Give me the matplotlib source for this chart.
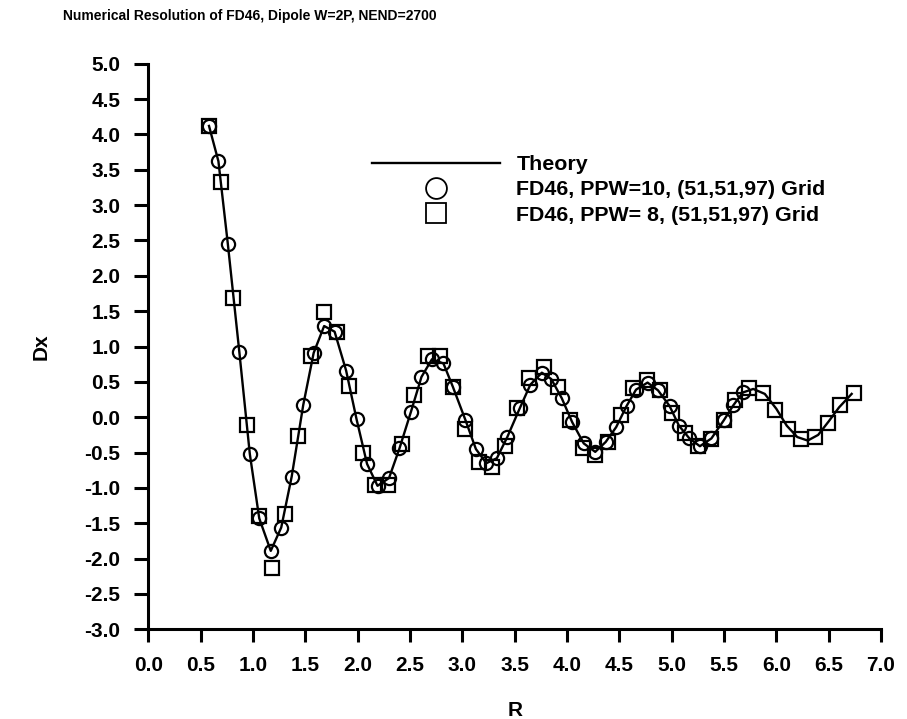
import matplotlib
matplotlib.use("Agg")
import matplotlib.pyplot as plt
from matplotlib.lines import Line2D

plt.rcParams['font.family'] = ['Liberation Sans', 'DejaVu Sans']
plt.rcParams['font.weight'] = 'bold'

# FD46, PPW=10 (circles)
r_ppw10 = [0.58, 0.67, 0.76, 0.87, 0.97, 1.06, 1.17, 1.27, 1.37, 1.48,
           1.58, 1.68, 1.78, 1.89, 1.99, 2.09, 2.19, 2.30, 2.40, 2.51,
           2.61, 2.71, 2.82, 2.91, 3.03, 3.13, 3.23, 3.33, 3.43, 3.55,
           3.65, 3.76, 3.85, 3.95, 4.05, 4.16, 4.27, 4.37, 4.47, 4.57,
           4.66, 4.77, 4.87, 4.98, 5.07, 5.17, 5.27, 5.38, 5.50, 5.59, 5.68]
dx_ppw10 = [4.12, 3.62, 2.45, 0.92, -0.52, -1.43, -1.89, -1.56, -0.84, 0.17,
            0.91, 1.29, 1.21, 0.66, -0.03, -0.66, -0.97, -0.86, -0.44, 0.08,
            0.57, 0.82, 0.76, 0.43, -0.04, -0.45, -0.65, -0.58, -0.28, 0.13,
            0.46, 0.63, 0.54, 0.27, -0.07, -0.37, -0.49, -0.35, -0.14, 0.16,
            0.39, 0.49, 0.38, 0.16, -0.12, -0.30, -0.41, -0.30, -0.04, 0.17, 0.35]

# FD46, PPW=8 (squares)
r_ppw8 = [0.58, 0.69, 0.81, 0.94, 1.06, 1.18, 1.31, 1.43, 1.55, 1.68,
          1.80, 1.92, 2.05, 2.17, 2.29, 2.42, 2.54, 2.67, 2.79, 2.91,
          3.03, 3.16, 3.28, 3.41, 3.52, 3.64, 3.78, 3.91, 4.03, 4.15,
          4.27, 4.39, 4.52, 4.63, 4.76, 4.89, 5.00, 5.13, 5.25, 5.38,
          5.50, 5.61, 5.74, 5.87, 5.99, 6.11, 6.24, 6.37, 6.49, 6.61, 6.74]
dx_ppw8 = [4.12, 3.33, 1.69, -0.11, -1.40, -2.13, -1.37, -0.26, 0.86, 1.49,
           1.20, 0.44, -0.50, -0.96, -0.96, -0.38, 0.32, 0.87, 0.87, 0.43,
           -0.17, -0.63, -0.70, -0.40, 0.13, 0.56, 0.71, 0.43, -0.04, -0.43,
           -0.53, -0.35, 0.03, 0.41, 0.53, 0.38, 0.06, -0.23, -0.41, -0.31,
           -0.04, 0.24, 0.42, 0.34, 0.10, -0.16, -0.31, -0.28, -0.08, 0.17, 0.34]

# theory curve
r_theory = r_ppw10 + [5.78, 5.89, 6.00, 6.10, 6.20, 6.30, 6.40, 6.50, 6.60, 6.72]
dx_theory = dx_ppw10 + [0.40, 0.33, 0.12, -0.12, -0.28, -0.33, -0.25, -0.06, 0.14, 0.33]

labels = ["Theory", "FD46, PPW=10, (51,51,97) Grid", "FD46, PPW= 8, (51,51,97) Grid"]

fig = plt.figure(figsize=(9.07, 7.19), dpi=100)
ax = fig.add_axes([0.1635, 0.1247, 0.8078, 0.7867])

ax.plot(r_theory, dx_theory, color='black', lw=1.7, zorder=2)
ax.plot(r_ppw10, dx_ppw10, ls='none', marker='o', ms=9.5, mfc='none', mec='black', mew=1.6, zorder=3)
ax.plot(r_ppw8, dx_ppw8, ls='none', marker='s', ms=9.5, mfc='none', mec='black', mew=1.6, zorder=3)

ax.set_xlim(0, 7)
ax.set_ylim(-3, 5)
ax.set_xticks([i * 0.5 for i in range(15)])
ax.set_yticks([-3 + i * 0.5 for i in range(17)])
ax.set_xticklabels(["%.1f" % (i * 0.5) for i in range(15)])
ax.set_yticklabels(["%.1f" % (-3 + i * 0.5) for i in range(17)])
ax.tick_params(direction='out', width=2.2, labelsize=15)
ax.tick_params(axis='y', length=10, pad=10)
ax.tick_params(axis='x', length=9, pad=10)

for s in ['top', 'right']:
    ax.spines[s].set_visible(False)
for s in ['left', 'bottom']:
    ax.spines[s].set_linewidth(2.2)

ax.set_xlabel("R", fontsize=15, fontweight='bold', labelpad=19)
ax.set_ylabel("Dx", fontsize=15, fontweight='bold', labelpad=24)

fig.text(63 / 907, 1 - 16 / 719, "Numerical Resolution of FD46, Dipole W=2P, NEND=2700",
         fontsize=10, fontweight='bold', ha='left', va='center')

handles = [Line2D([], [], color='black', lw=1.7),
           Line2D([], [], ls='none', marker='o', ms=15, mfc='none', mec='black', mew=1.3),
           Line2D([], [], ls='none', marker='s', ms=15, mfc='none', mec='black', mew=1.3)]
ax.legend(handles, labels, loc='upper left', bbox_to_anchor=(372 / 907, 1 - 155 / 719),
          bbox_transform=fig.transFigure, frameon=False, fontsize=15.4,
          handlelength=6.0, handletextpad=0.75, labelspacing=0.3,
          borderpad=0, borderaxespad=0)

fig.savefig("out.png", dpi=100)
